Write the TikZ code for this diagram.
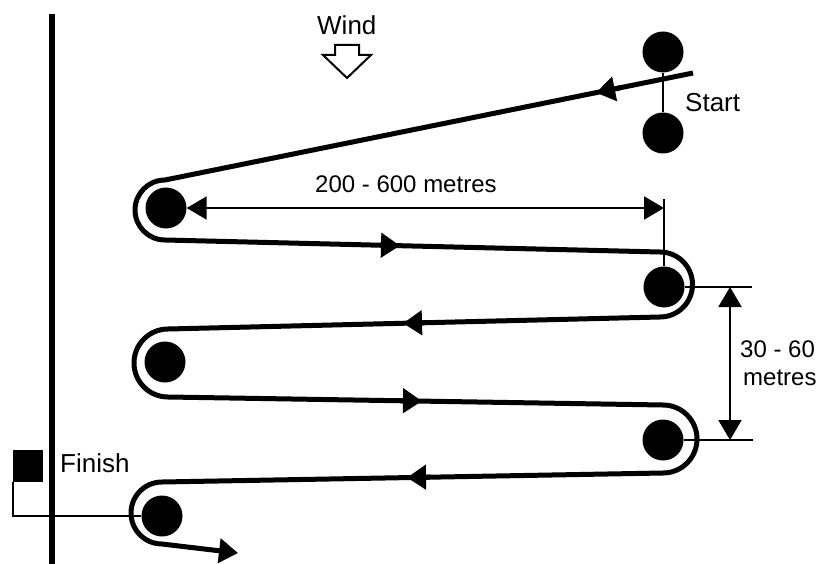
\documentclass[tikz,border=0pt]{standalone}
\usepackage{fontspec}
\setmainfont{Liberation Sans}
\usetikzlibrary{arrows.meta}
\begin{document}
\begin{tikzpicture}[x=1pt,y=-1pt,
  buoy/.style={circle,fill=black,minimum size=41pt,inner sep=0pt},
  course/.style={line width=5pt,line join=round},
  thinl/.style={line width=2pt},
  headc/.style={-{Triangle[length=19pt,width=24pt]}},
  dima/.style={{Triangle[length=20pt,width=23pt]}-{Triangle[length=20pt,width=23pt]}},
  lbl/.style={anchor=base west,inner sep=0pt,font=\fontsize{24}{28}\selectfont},
  lblb/.style={anchor=base west,inner sep=0pt,font=\fontsize{26}{30}\selectfont}]
\useasboundingbox (0,0) rectangle (818,564);

% shore line
\coordinate (shoreT) at (52,14);
\coordinate (shoreB) at (52,564);
\draw[line width=6pt] (shoreT) -- (shoreB);

% buoys
\node[buoy] (s1) at (663,52) {};
\node[buoy] (s2) at (663,133) {};
\node[buoy] (l1) at (166,208) {};
\node[buoy] (r1) at (664,287) {};
\node[buoy] (l2) at (165,362) {};
\node[buoy] (r2) at (663,440) {};
\node[buoy] (l3) at (162,516) {};

% start line
\draw[thinl] (s1) -- (s2);

% course
\coordinate (c0) at (693,73);
\coordinate (cend) at (238,553);
\draw[course,headc] (c0) -- (165,180) arc[start angle=270,end angle=90,radius=30]
  -- (660,252) arc[start angle=270,end angle=450,radius=32.5]
  -- (168,329) arc[start angle=270,end angle=90,radius=34]
  -- (663,405) arc[start angle=270,end angle=450,radius=34]
  -- (162,482) arc[start angle=270,end angle=90,radius=31]
  -- (cend);

% direction arrows on the legs
\draw[course,headc] (620,87.8) -- (596,92.7);
\draw[course,headc] (380,245.2) -- (400,245.7);
\draw[course,headc] (425,322.7) -- (403,323.3);
\draw[course,headc] (400,400.7) -- (422,401.1);
\draw[course,headc] (430,477.2) -- (407,477.6);

% 200 - 600 metres dimension
\coordinate (dr) at (664,208);
\coordinate (dtop) at (664,199);
\draw[thinl,dima] (l1.east) -- (dr);
\draw[thinl] (dtop) -- (r1.north);
\node[lbl] (dlen) at (315,193) {200 - 600 metres};

% 30 - 60 metres dimension
\coordinate (e1) at (752,287);
\coordinate (e2) at (753,440);
\coordinate (v1) at (730,287);
\coordinate (v2) at (730,440);
\draw[thinl] (r1.east) -- (e1);
\draw[thinl] (r2.east) -- (e2);
\draw[thinl,dima] (v1) -- (v2);
\node[lbl] (dw1) at (740,357) {30 - 60};
\node[lbl] (dw2) at (743,385) {metres};

% finish flag
\coordinate (fp1) at (13,482);
\coordinate (fp2) at (13,516);
\fill (13,450) rectangle (43,482);
\draw[thinl] (fp1) -- (fp2) -- (l3.west);

% wind arrow
\draw[thinl,line join=miter] (335,45) -- (359,45) -- (359,55) -- (371,55) -- (347,78)
  -- (323,55) -- (335,55) -- cycle;

% labels
\node[lblb] (wind) at (317,35) {Wind};
\node[lblb] (start) at (685,112) {Start};
\node[lblb] (finish) at (60,472) {Finish};
\end{tikzpicture}
\end{document}
